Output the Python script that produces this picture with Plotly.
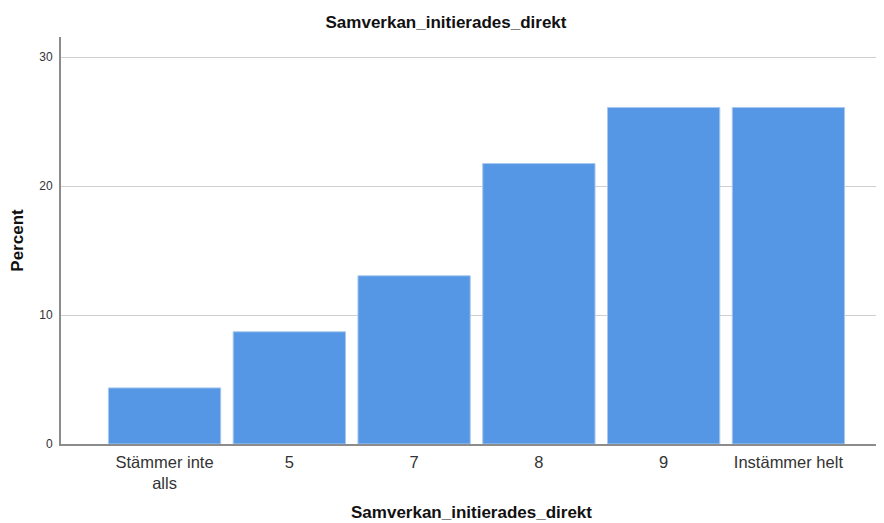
import plotly.graph_objects as go

categories = ["Stämmer inte<br>alls", "5", "7", "8", "9", "Instämmer helt"]
percent = [4.35, 8.70, 13.04, 21.74, 26.09, 26.09]
y_ticks = [0, 10, 20, 30]

W, H = 876, 515

fig = go.Figure(go.Bar(
    x=list(range(len(categories))),
    y=percent,
    marker=dict(color="#5597e4", line=dict(color="#a9c8ef", width=1)),
    width=0.9,
))

fig.update_layout(
    width=W, height=H,
    margin=dict(l=53, r=2, t=29, b=79, autoexpand=False),
    paper_bgcolor="white", plot_bgcolor="white",
    font=dict(family="Liberation Sans, Arial, sans-serif", color="#222"),
    title=dict(text="<b>Samverkan_initierades_direkt</b>", x=0.5, xanchor="center",
               y=1 - 14 / H, yanchor="middle", font=dict(size=17, color="#111")),
    showlegend=False,
    xaxis=dict(
        tickmode="array", tickvals=list(range(len(categories))), ticktext=categories,
        range=[-0.83, 5.75], showgrid=False, zeroline=False, automargin=False,
        showline=True, linecolor="#8c8c8c", linewidth=2,
        ticks="", tickfont=dict(size=16.5, color="#333"), ticklabelstandoff=2,
        title=dict(text="<b>Samverkan_initierades_direkt</b>", font=dict(size=17, color="#111"), standoff=15),
    ),
    yaxis=dict(
        range=[0, 31.55], tickvals=y_ticks, showgrid=True, gridcolor="#cfcfcf", gridwidth=1,
        zeroline=False, showline=True, linecolor="#8c8c8c", linewidth=2, automargin=False,
        ticks="", tickfont=dict(size=12, color="#333"), ticklabelstandoff=4,
        title=dict(text="<b>Percent</b>", font=dict(size=17, color="#111"), standoff=17),
    ),
)

fig.write_html("out.html")
